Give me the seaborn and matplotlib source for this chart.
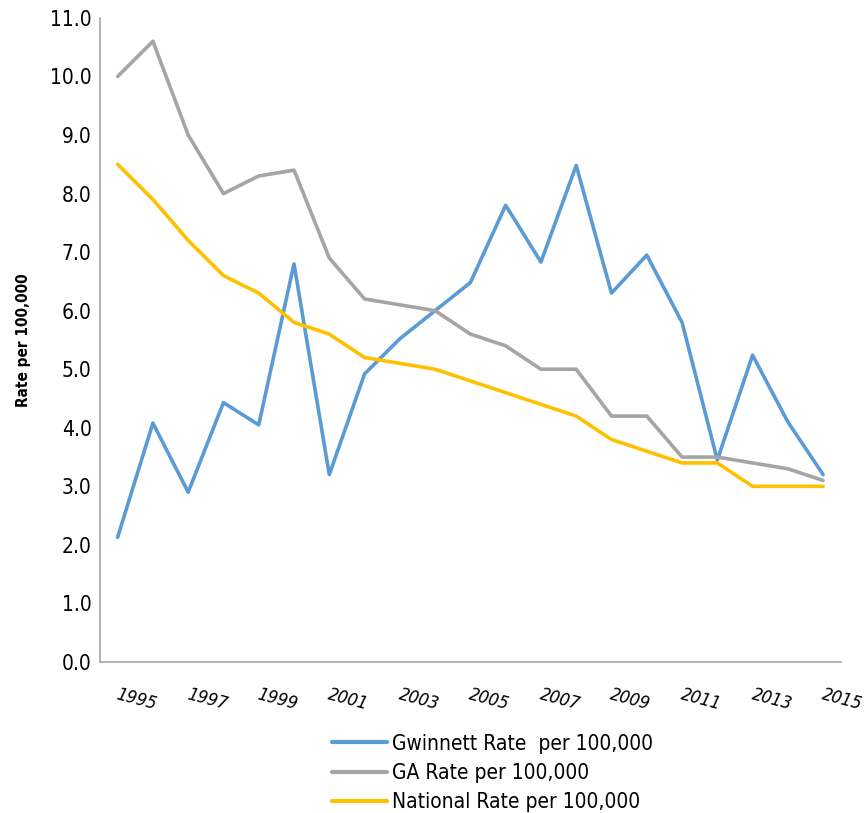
import matplotlib
matplotlib.use('Agg')
import matplotlib.pyplot as plt
import matplotlib.transforms as mtransforms
import seaborn as sns
import pandas as pd
import numpy as np

# Data
years = list(range(1995, 2016))
gwinnett = [2.13, 4.08, 2.9, 4.43, 4.05, 6.8, 3.2, 4.92, 5.52, 6.0, 6.48,
            7.8, 6.83, 8.48, 6.3, 6.95, 5.8, 3.45, 5.24, 4.1, 3.2]
georgia = [10.0, 10.6, 9.0, 8.0, 8.3, 8.4, 6.9, 6.2, 6.1, 6.0, 5.6,
           5.4, 5.0, 5.0, 4.2, 4.2, 3.5, 3.5, 3.4, 3.3, 3.1]
national = [8.5, 7.9, 7.2, 6.6, 6.3, 5.8, 5.6, 5.2, 5.1, 5.0, 4.8,
            4.6, 4.4, 4.2, 3.8, 3.6, 3.4, 3.4, 3.0, 3.0, 3.0]
series_names = ['Gwinnett Rate  per 100,000', 'GA Rate per 100,000',
                'National Rate per 100,000']
colors = ['#5B9BD5', '#A5A5A5', '#FFC000']
ytick_vals = np.arange(0, 12, 1)
xtick_years = list(range(1995, 2016, 2))

df = pd.DataFrame({
    'Year': years * 3,
    'Rate': gwinnett + georgia + national,
    'Series': [series_names[0]] * 21 + [series_names[1]] * 21 + [series_names[2]] * 21,
})

sns.set_theme(style='white')
plt.rcParams['font.family'] = ['DejaVu Sans']
plt.rcParams['font.stretch'] = 'condensed'
plt.rcParams['text.color'] = 'black'
plt.rcParams['xtick.color'] = 'black'
plt.rcParams['ytick.color'] = 'black'
plt.rcParams['axes.labelcolor'] = 'black'

fig = plt.figure(figsize=(8.65, 8.13), dpi=100)
ax = fig.add_axes([0.1156, 0.1857, 0.972 - 0.1156, 0.978 - 0.1857])

sns.lineplot(data=df, x='Year', y='Rate', hue='Series', palette=colors,
             linewidth=2.6, ax=ax, legend=True)

ax.set_xlim(1994.5, 2015.5)
ax.set_ylim(0, 11)
ax.set_yticks(ytick_vals)
ax.set_yticklabels([f'{v:.1f}' for v in ytick_vals], fontsize=15, fontstretch='condensed')
ax.set_xticks(xtick_years)
ax.set_xticklabels([])
ax.tick_params(axis='both', length=0, pad=6)

# year labels, slanted and nudged right like the original
xlab_trans = mtransforms.blended_transform_factory(ax.transData, ax.transAxes) + \
    mtransforms.ScaledTranslation(0.19, 0, fig.dpi_scale_trans)
for y in xtick_years:
    ax.text(y, -0.058, str(y), transform=xlab_trans, fontsize=13, style='italic',
            fontstretch='condensed', rotation=-15, ha='center', va='center',
            rotation_mode='anchor')

ax.set_xlabel('')
ax.set_ylabel('Rate per 100,000', fontsize=11, fontweight='bold', labelpad=14,
              fontstretch='condensed')

for side in ['top', 'right']:
    ax.spines[side].set_visible(False)
for side in ['left', 'bottom']:
    ax.spines[side].set_color('#A6A6A6')
    ax.spines[side].set_linewidth(1.2)

leg = ax.legend(loc='upper center', bbox_to_anchor=(0.53, -0.082), frameon=False,
                prop={'size': 15, 'stretch': 'condensed'}, handlelength=2.6,
                handletextpad=0.25, labelspacing=0.45, title=None)
for line in leg.get_lines():
    line.set_linewidth(3)

fig.savefig('out.png', dpi=100)
